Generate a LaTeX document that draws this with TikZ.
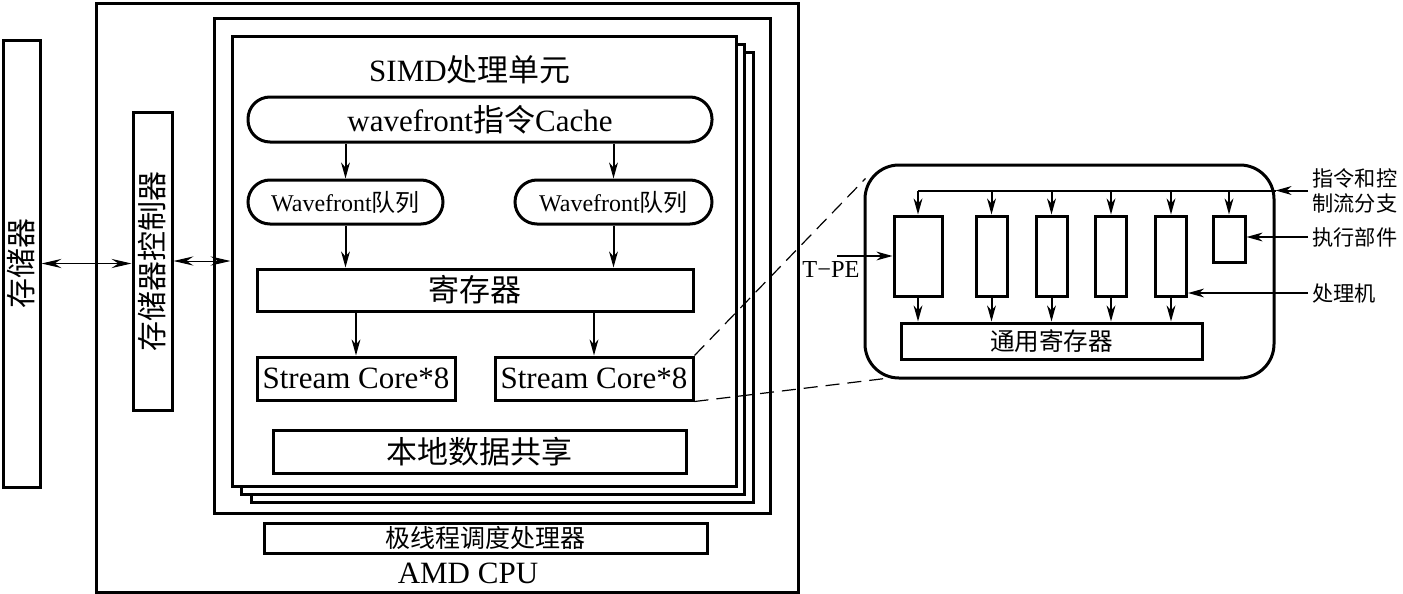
\documentclass[tikz,border=0pt]{standalone}
\usepackage{fontspec}
\setmainfont{Liberation Serif}
\newfontfamily\cjk{Noto Sans CJK SC}
\usepackage{tikz}
\usetikzlibrary{arrows.meta}

\begin{document}
\begin{tikzpicture}[x=0.5pt,y=-0.5pt,
    box/.style={draw,line width=1.5pt,inner sep=0pt,fill=white},
    arr/.style={line width=1pt,-{Stealth[length=8pt,width=4.4pt,inset=2.5pt]}},
    darr/.style={line width=0.5pt,{Stealth[length=10pt,width=4.6pt,inset=3.5pt]}-{Stealth[length=10pt,width=4.6pt,inset=3.5pt]}},
    big/.style={font=\fontsize{15.5}{18}\selectfont},
    small/.style={font=\fontsize{12}{14}\selectfont},
    lbl/.style={anchor=west,align=left,inner sep=2pt,font=\cjk\fontsize{10.6}{12.5}\selectfont}]
    \useasboundingbox (0,0) rectangle (1403,594);
    % AMD CPU
    \node[box,minimum width=351pt,minimum height=294.5pt] (cpu) at (447,297.5) {};
    \node[big] (cputxt) at (468,573) {AMD CPU};
    % memory and controller
    \node[box,minimum width=18.5pt,minimum height=223.5pt] (mem) at (21.5,263.5) {};
    \node[rotate=90,font=\cjk\fontsize{15}{17}\selectfont] (memtxt) at (mem) {存储器};
    \node[box,minimum width=19.5pt,minimum height=149pt] (ctrl) at (152.5,261) {};
    \node[rotate=90,font=\cjk\fontsize{15}{17}\selectfont] (ctrltxt) at (ctrl) {存储器控制器};
    % SIMD stack
    \node[box,minimum width=278pt,minimum height=247.5pt] (frame) at (492,265.5) {};
    \node[box,minimum width=251pt,minimum height=225pt] (s3) at (502,277) {};
    \node[box,minimum width=251.5pt,minimum height=225pt] (s2) at (492.5,269) {};
    \node[box,minimum width=252pt,minimum height=225pt] (s1) at (484,261) {};
    \node[box,minimum width=221.5pt,minimum height=15pt,font=\cjk\fontsize{12.5}{14}\selectfont] (sched) at (485.5,538) {极线程调度处理器};
    \draw[darr] (mem.east) -- (mem.east -| ctrl.west);
    \draw[darr] (ctrl.east) -- (ctrl.east -| s1.west);
    % SIMD unit
    \node[big] (title) at (470,70) {SIMD{\cjk 处理单元}};
    \node[box,rounded corners=11pt,minimum width=232pt,minimum height=22.5pt,big] (cache) at (480,119.5) {wavefront{\cjk 指令}Cache};
    \node[box,rounded corners=11pt,minimum width=97.5pt,minimum height=22pt,small] (q1) at (345.5,202) {Wavefront{\cjk 队列}};
    \node[box,rounded corners=11pt,minimum width=98.5pt,minimum height=22pt,small] (q2) at (613.5,202) {Wavefront{\cjk 队列}};
    \node[box,minimum width=218pt,minimum height=21pt,big] (reg) at (475,290) {\cjk 寄存器};
    \node[box,minimum width=99pt,minimum height=21.5pt,big] (sc1) at (356,378.5) {Stream Core*8};
    \node[box,minimum width=99pt,minimum height=21.5pt,big] (sc2) at (594,378.5) {Stream Core*8};
    \node[box,minimum width=206.5pt,minimum height=21.5pt,big] (lds) at (479.5,451.5) {\cjk 本地数据共享};
    \draw[arr] (q1.north |- cache.south) -- (q1.north);
    \draw[arr] (q2.north |- cache.south) -- (q2.north);
    \draw[arr] (q1.south) -- (q1.south |- reg.north);
    \draw[arr] (q2.south) -- (q2.south |- reg.north);
    \draw[arr] (sc1.north |- reg.south) -- (sc1.north);
    \draw[arr] (sc2.north |- reg.south) -- (sc2.north);
    % T-PE
    \node[box,rounded corners=17pt,minimum width=204.5pt,minimum height=106.5pt] (pe) at (1069.5,271.5) {};
    \node[box,minimum width=24pt,minimum height=40pt] (p1) at (918,256) {};
    \foreach \n/\x in {p2/991.5,p3/1051.5,p4/1111,p5/1171}
        \node[box,minimum width=15.5pt,minimum height=40pt] (\n) at (\x,256) {};
    \node[box,minimum width=16pt,minimum height=23pt] (ex) at (1229,239) {};
    \node[box,minimum width=150.5pt,minimum height=18pt,font=\cjk\fontsize{12.3}{14}\selectfont] (gpr) at (1051.5,341) {通用寄存器};
    \node[lbl] (ctl) at (1308,190.5) {指令和控\\制流分支};
    \node[lbl] (exl) at (1308,237) {执行部件};
    \node[lbl] (pl) at (1308,293) {处理机};
    \coordinate (bus) at (ctl.west -| pe.east);
    \draw[arr] (ctl.west) -- (bus);
    \draw[line width=1pt] (bus) -- (bus -| p1.north);
    \foreach \n in {p1,p2,p3,p4,p5,ex}
        \draw[arr] (bus -| \n.north) -- (\n.north);
    \foreach \n in {p1,p2,p3,p4,p5}
        \draw[arr] (\n.south) -- (\n.south |- gpr.north);
    \draw[arr] (exl.west) -- (exl.west -| ex.east);
    \draw[arr] (pl.west) -- (pl.west -| p5.east);
    \node[font=\fontsize{12.2}{14}\selectfont] (tpe) at (831,270) {T−PE};
    \coordinate (tpein) at (837,256);
    \draw[arr] (tpein) -- (tpein -| p1.west);
    \draw[dash pattern=on 7pt off 4pt,line width=0.6pt] (sc2.north east) -- ([xshift=1pt,yshift=-7.5pt]pe.north west);
    \draw[dash pattern=on 7pt off 4pt,line width=0.6pt] (sc2.south east) -- ([xshift=15pt,yshift=1pt]pe.south west);
\end{tikzpicture}
\end{document}
